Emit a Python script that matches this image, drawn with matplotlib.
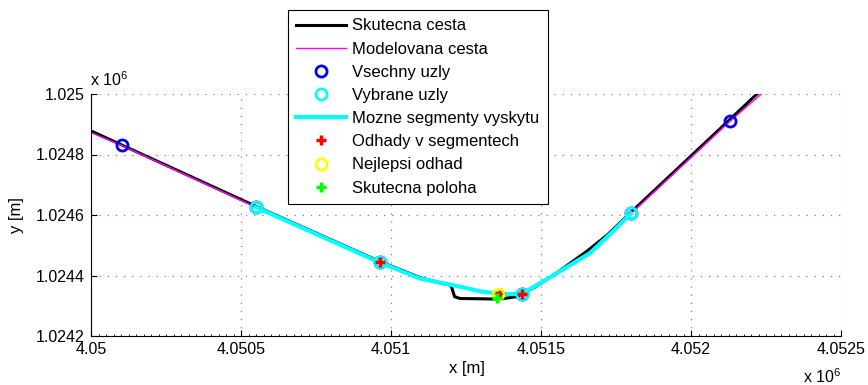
import numpy as np
import matplotlib
matplotlib.use('Agg')
import matplotlib.pyplot as plt
from matplotlib.ticker import FixedLocator, FuncFormatter, MultipleLocator

plt.rcParams['font.family'] = ['Liberation Sans', 'DejaVu Sans']
plt.rcParams['mathtext.fontset'] = 'custom'
plt.rcParams['mathtext.rm'] = 'Liberation Sans'
plt.rcParams['mathtext.it'] = 'Liberation Sans'
plt.rcParams['font.size'] = 11

# skutecna cesta (real path)
real_x = [4050000, 4050549, 4050963, 4051100, 4051170, 4051200, 4051212, 4051230,
          4051360, 4051420, 4051480, 4051550, 4051650, 4051720, 4051800, 4052130, 4052225]
real_y = [1024878, 1024629, 1024446, 1024392, 1024374, 1024368, 1024330, 1024324,
          1024322, 1024330, 1024362, 1024407, 1024478, 1024533, 1024609, 1024916, 1025005]

# modelovana cesta (model path)
model_x = [4050000, 4050102, 4050549, 4050963, 4051097, 4051230, 4051300, 4051380,
           4051437, 4051497, 4051553, 4051663, 4051720, 4051800, 4052130, 4052240]
model_y = [1024872, 1024830, 1024626, 1024443, 1024390, 1024363, 1024347, 1024338,
           1024340, 1024375, 1024408, 1024474, 1024527, 1024605, 1024910, 1025005]

# uzly
node_x = [4050102, 4050549, 4050963, 4051437, 4051800, 4052130]
node_y = [1024830, 1024626, 1024443, 1024340, 1024605, 1024910]
selected = [1, 2, 3, 4]

# odhady
est_x = [4050963, 4051362, 4051437]
est_y = [1024443, 1024343, 1024340]
best_x, best_y = [4051357], [1024338]
true_x, true_y = [4051353], [1024324]

xticks = [4.05e6, 4.0505e6, 4.051e6, 4.0515e6, 4.052e6, 4.0525e6]
yticks = [1.0242e6, 1.0244e6, 1.0246e6, 1.0248e6, 1.025e6]

fig = plt.figure(figsize=(8.68, 3.85), dpi=100)
ax = fig.add_axes([91/868, 49/385, 750/868, 242/385])

ax.plot(real_x, real_y, color='black', lw=2.2, label='Skutecna cesta')
ax.plot(model_x, model_y, color='#ff00ff', lw=1.0, label='Modelovana cesta')
ax.plot(node_x, node_y, 'o', ms=8, mfc='none', mec='#0000ff', mew=2, label='Vsechny uzly')
sel_x = [node_x[i] for i in selected]
sel_y = [node_y[i] for i in selected]
ax.plot(sel_x, sel_y, 'o', ms=8, mfc='none', mec='#00ffff', mew=2, label='Vybrane uzly')
i0 = model_x.index(node_x[selected[0]])
i1 = model_x.index(node_x[selected[-1]])
ax.plot(model_x[i0:i1 + 1], model_y[i0:i1 + 1], color='#00ffff', lw=3,
        label='Mozne segmenty vyskytu')
ax.plot(est_x, est_y, '+', ms=7, mew=2.5, color='#ff0000', label='Odhady v segmentech')
ax.plot(best_x, best_y, 'o', ms=8, mfc='none', mec='#ffff00', mew=2, label='Nejlepsi odhad')
ax.plot(true_x, true_y, '+', ms=7, mew=2.5, color='#00ff00', label='Skutecna poloha')

ax.set_xlim(4.05e6, 4.0525e6)
ax.set_ylim(1.0242e6, 1.025e6)
ax.xaxis.set_major_locator(FixedLocator(xticks))
ax.yaxis.set_major_locator(FixedLocator(yticks))
fmt = FuncFormatter(lambda v, p: '%g' % round(v / 1e6, 5))
ax.xaxis.set_major_formatter(fmt)
ax.yaxis.set_major_formatter(fmt)
ax.xaxis.set_minor_locator(MultipleLocator(25))
ax.tick_params(which='major', direction='in', length=4, width=0.8, pad=4.5, labelsize=11.5)
ax.tick_params(axis='x', which='minor', direction='in', length=1.5, width=0.6)
ax.grid(True, which='major', color='#808080', linestyle=(0, (1, 5.5)), lw=0.9)

for s in ['top', 'right']:
    ax.spines[s].set_visible(False)
for s in ['left', 'bottom']:
    ax.spines[s].set_linewidth(0.8)

fig.text(467/868, 1 - 368/385, 'x [m]', ha='center', va='center', fontsize=12)
fig.text(16/868, 1 - 215/385, 'y [m]', ha='center', va='center', rotation=90, fontsize=12)
fig.text(90/868, 1 - 86/385, r'x 10$^{6}$', ha='left', va='baseline', fontsize=11.5)
fig.text(803/868, 1 - 383/385, r'x 10$^{6}$', ha='left', va='baseline', fontsize=11.5)

leg = ax.legend(loc='upper left', bbox_to_anchor=(288/868, 1 - 10/385),
                bbox_transform=fig.transFigure, borderaxespad=0, fancybox=False,
                edgecolor='black', framealpha=1, fontsize=12, handlelength=3.0,
                handletextpad=0.36, labelspacing=0.49, borderpad=0.5)
leg.get_frame().set_linewidth(0.8)

fig.savefig('out.png', dpi=100)
